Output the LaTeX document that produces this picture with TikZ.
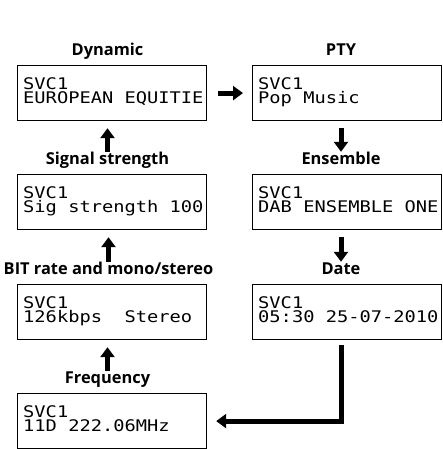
\documentclass[tikz,border=0pt]{standalone}
\usepackage{fontspec}
\setsansfont{Open Sans}
\newfontfamily\lcdfont[FakeStretch=1.17]{DejaVu Sans Mono}
\usetikzlibrary{calc}
\usetikzlibrary{arrows.meta}

\begin{document}
\begin{tikzpicture}[x=1pt,y=1pt,
        screen/.style={draw,line width=1.2pt,minimum width=189pt,minimum height=55pt,inner sep=0pt,anchor=north west},
        lcd/.style={font=\lcdfont\fontsize{16}{13.8}\selectfont,inner sep=0pt,anchor=base west},
        title/.style={font=\sffamily\bfseries\fontsize{16.4}{18}\selectfont,inner sep=0pt,anchor=base,text height=12pt},
        fat/.style={line width=5pt,-{Triangle[width=14pt,length=10pt]}}]
    \useasboundingbox[fill=white] (0,0) rectangle (443,449);

    \node[screen] (dyn) at (17,384) {};
    \node[lcd] (dyn-txt) at ($(dyn.north west)+(6,-25)$) {\vtop{\hbox{SVC1}\hbox{EUROPEAN EQUITIE}}};
    \node[title] (dyn-lab) at (107.5,393) {Dynamic};

    \node[screen] (sig) at (17,275) {};
    \node[lcd] (sig-txt) at ($(sig.north west)+(6,-25)$) {\vtop{\hbox{SVC1}\hbox{Sig strength 100}}};
    \node[title] (sig-lab) at (107.5,284) {Signal strength};

    \node[screen] (bit) at (17,165) {};
    \node[lcd] (bit-txt) at ($(bit.north west)+(6,-25)$) {\vtop{\hbox{SVC1}\hbox{126kbps~~Stereo}}};
    \node[title] (bit-lab) at (108.5,174) {BIT rate and mono/stereo};

    \node[screen] (freq) at (17,56) {};
    \node[lcd] (freq-txt) at ($(freq.north west)+(6,-25)$) {\vtop{\hbox{SVC1}\hbox{11D 222.06MHz}}};
    \node[title] (freq-lab) at (107.5,65) {Frequency};

    \node[screen] (pty) at (252,384) {};
    \node[lcd] (pty-txt) at ($(pty.north west)+(6,-25)$) {\vtop{\hbox{SVC1}\hbox{Pop Music}}};
    \node[title] (pty-lab) at (341,393) {PTY};

    \node[screen] (ens) at (252,275) {};
    \node[lcd] (ens-txt) at ($(ens.north west)+(6,-25)$) {\vtop{\hbox{SVC1}\hbox{DAB ENSEMBLE ONE}}};
    \node[title] (ens-lab) at (341,284) {Ensemble};

    \node[screen] (date) at (252,165) {};
    \node[lcd] (date-txt) at ($(date.north west)+(6,-25)$) {\vtop{\hbox{SVC1}\hbox{05:30 25-07-2010}}};
    \node[title] (date-lab) at (341,174) {Date};

    \draw[fat] ([xshift=11pt]dyn.east) -- ([xshift=-9pt]pty.west);

    \draw[fat] ([yshift=1pt]sig-lab.north) -- ($(sig-lab.north |- dyn.south)+(0,-7)$);
    \draw[fat] ([yshift=1pt]bit-lab.north) -- ($(bit-lab.north |- sig.south)+(0,-7)$);
    \draw[fat] ([yshift=1pt]freq-lab.north) -- ($(freq-lab.north |- bit.south)+(0,-7)$);

    \draw[fat] ($(ens-lab.north |- pty.south)+(0,-7)$) -- ([yshift=1pt]ens-lab.north);
    \draw[fat] ($(date-lab.north |- ens.south)+(0,-7)$) -- ([yshift=1pt]date-lab.north);

    \draw[fat] ($(date-lab.north |- date.south)+(0,-5)$) |- ([xshift=9pt]freq.east);
\end{tikzpicture}
\end{document}
